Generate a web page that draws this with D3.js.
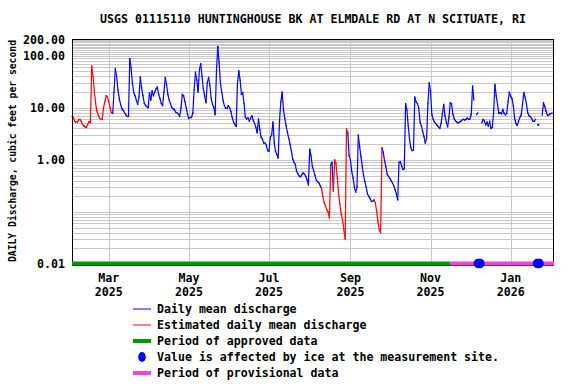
<!DOCTYPE html>
<html>
<head>
<meta charset="utf-8">
<script src="https://cdn.jsdelivr.net/npm/d3@7"></script>
<style>
  body { margin: 0; background: #fff; }
  text { font-family: "DejaVu Sans Mono", monospace; font-weight: bold; font-size: 11.6px; fill: #000; }
</style>
</head>
<body>
<div id="chart"></div>
<script>
var title = "USGS 01115110 HUNTINGHOUSE BK AT ELMDALE RD AT N SCITUATE, RI";
var yLabel = "DAILY Discharge, cubic feet per second";
var firstDay = "2025-02-01";
var lastDay = "2026-02-03";

// daily mean discharge, cfs (null = no value)
var feb25 = [6.8, 6.6, 5.5, 5.3, 5.3, 5.8, 6.0, 5.5, 4.8, 4.5, 4.3, 4.2, 4.8, 5.4, 5.2, 63, 40, 21, 12, 8.5, 7.2, 6.3, 6.0, 6.0, 10, 13, 17, 16];
var mar25 = [13, 10, 8, 7.8, 20, 56, 40, 22, 15, 11.5, 9.6, 9, 8, 7.3, 6.8, 6.8, 88, 58, 30, 19.5, 17, 14, 11.6, 16, 39, 24, 17, 12.3, 11.2, 10.5, 10];
var apr25 = [19.5, 14, 21, 17, 20, 23, 25, 18, 15, 12, 11, 20, 38, 28, 18, 14, 12, 10, 9.5, 9.2, 8.2, 8, 7.5, 6.8, 10, 18, 17, 13, 10, 7.4];
var may25 = [6.2, 6.5, 6.5, 8, 22, 48, 34, 20, 53, 70, 40, 23, 17, 12.5, 30, 38, 27, 15, 11.5, 10, 7.4, 50, 150, 73, 30, 20, 14, 11, 9.8, 9.7, 11];
var jun25 = [10, 8.4, 6.5, 5.3, 4.8, 4.4, 29, 51, 34, 18, 19.5, 12, 6.5, 6.1, 6.4, 5.5, 6.3, 7, 5.8, 5, 4.2, 3.3, 6.1, 3.8, 2.7, 2.5, 2.1, 2.1, 1.9, 1.5];
var jul25 = [1.47, 2.7, 3.0, 5.3, 2.1, 1.45, 1.27, 1.09, 5.6, 13, 20, 9.3, 6.3, 4.5, 3.4, 2.6, 2.0, 1.5, 1.05, 0.9, 0.82, 0.6, 0.54, 0.49, 0.47, 0.52, 0.56, 0.53, 0.48, 0.41, 0.33];
var aug25 = [1.6, 1.2, 0.75, 0.62, 0.5, 0.41, 0.38, 0.36, 0.32, 0.28, 0.2, 0.15, 0.13, 0.11, 0.1, 0.077, 0.8, 0.9, 0.25, 1.0, 0.85, 0.45, 0.22, 0.14, 0.09, 0.07, 0.045, 0.03, 3.9, 3.3, 1.2];
var sep25 = [1.0, 0.6, 0.45, 0.3, 0.24, 0.3, 3.0, 1.8, 1.16, 0.75, 0.5, 0.38, 0.3, 0.22, 0.2, 0.18, 0.16, 0.16, 0.17, 0.15, 0.1, 0.065, 0.045, 0.04, 1.7, 1.4, 0.95, 0.74, 0.52, 0.48];
var oct25 = [0.44, 0.4, 0.36, 0.32, 0.27, 0.22, 0.17, 0.9, 0.92, 0.75, 0.65, 0.68, 12, 9, 4.5, 2.5, 1.7, 1.5, 1.55, 16, 13, 12, 10, 5.3, 4.5, 3.5, 2.8, 2.1, 2.6, 12, 30];
var nov25 = [20, 7.4, 6, 5.3, 5.0, 4.6, 4.3, 4.0, 5, 7.5, 11.6, 7, 5.3, 4.3, 6.5, 12.4, 12, 7.5, 6.2, 5.6, 5.3, 5.1, 5.3, 5.5, 5.8, 6, 5.8, 6, 6.3, 6];
var dec25 = [6.1, 7.4, 26, 14, null, 7.4, 8, null, null, 5.1, 6, 5.6, 4.7, 5.3, 4.4, 5.5, 4.0, 4.2, 8, 28, 17, 11.6, 7.8, 8, 7.6, 9.3, 7.8, 7.3, 7.8, 13, 20];
var jan26 = [16.5, 15, 11, 6.3, 5, 4.6, 5.5, 6.5, 7.2, 11.5, 19.5, 16, 12, 8, 7, 6.8, 6.2, 5.5, 5.5, 6, null, 4.7, null, null, 7.2, 12.4, 10.5, 8.5, 7.2, 7.2, 7.6];
var feb26 = [7.8, 7.9];

// periods of estimated values (drawn red)
var estimated = [["2025-02-01", "2025-03-04"], ["2025-08-10", "2025-08-17"], ["2025-08-19", "2025-08-30"], ["2025-09-19", "2025-09-25"]];
var iceDays = ["2025-12-07", "2025-12-08", "2025-12-09", "2026-01-21", "2026-01-22", "2026-01-23"];
var provisionalStart = "2025-11-16";

var yTicks = [0.01, 1, 10, 100, 200];
var xTicks = ["2025-03-01", "2025-05-01", "2025-07-01", "2025-09-01", "2025-11-01", "2026-01-01"];

var legendItems = [
  {label: "Daily mean discharge", kind: "line", color: "#0000ff"},
  {label: "Estimated daily mean discharge", kind: "line", color: "#ff0000"},
  {label: "Period of approved data", kind: "bar", color: "#009900"},
  {label: "Value is affected by ice at the measurement site.", kind: "dot", color: "#0000ff"},
  {label: "Period of provisional data", kind: "bar", color: "#ee44dd"}
];

var parse = d3.utcParse("%Y-%m-%d");
var flow = feb25.concat(mar25, apr25, may25, jun25, jul25, aug25, sep25, oct25, nov25, dec25, jan26, feb26);
var t0 = parse(firstDay);
var data = flow.map(function (v, i) {
  var date = d3.utcDay.offset(t0, i);
  var est = estimated.some(function (r) { return date >= parse(r[0]) && date <= parse(r[1]); });
  return {date: date, value: v, est: est};
});

var W = 576, H = 384;
var margin = {top: 40, right: 22, bottom: 120, left: 72};
var width = W - margin.left - margin.right;
var height = H - margin.top - margin.bottom;

var svg = d3.select("#chart").append("svg")
  .attr("width", W).attr("height", H);

var x = d3.scaleUtc().domain([parse(firstDay), parse(lastDay)]).range([margin.left, margin.left + width]);
var y = d3.scaleLog().domain([0.01, 200]).range([margin.top + height, margin.top]);

// title
svg.append("text")
  .attr("x", 313).attr("y", 23)
  .attr("text-anchor", "middle")
  .text(title);

// grid lines: 1..9 per decade, tens between 100 and 200
var gridVals = [];
[0.01, 0.1, 1, 10].forEach(function (dec) {
  for (var k = 1; k <= 9; k++) gridVals.push(dec * k);
});
for (var g = 100; g <= 200; g += 10) gridVals.push(g);

var grid = svg.append("g").attr("shape-rendering", "crispEdges");
grid.selectAll("line.h").data(gridVals).join("line")
  .attr("class", "h")
  .attr("x1", margin.left).attr("x2", margin.left + width)
  .attr("y1", function (d) { return Math.round(y(d)) + 0.5; })
  .attr("y2", function (d) { return Math.round(y(d)) + 0.5; })
  .attr("stroke", "#c8c8c8");
grid.selectAll("line.v").data(xTicks).join("line")
  .attr("class", "v")
  .attr("x1", function (d) { return Math.round(x(parse(d))) + 0.5; })
  .attr("x2", function (d) { return Math.round(x(parse(d))) + 0.5; })
  .attr("y1", margin.top).attr("y2", margin.top + height)
  .attr("stroke", "#c8c8c8");

// data segments
var segs = [];
for (var i = 0; i < data.length - 1; i++) {
  var a = data[i], b = data[i + 1];
  if (a.value == null || b.value == null) continue;
  segs.push({a: a, b: b, est: a.est && b.est});
}
svg.append("g").selectAll("line").data(segs).join("line")
  .attr("x1", function (d) { return x(d.a.date); })
  .attr("y1", function (d) { return y(d.a.value); })
  .attr("x2", function (d) { return x(d.b.date); })
  .attr("y2", function (d) { return y(d.b.value); })
  .attr("stroke", function (d) { return d.est ? "#ff0000" : "#0000ff"; })
  .attr("stroke-width", 1.2)
  .attr("stroke-linecap", "square");

// single points with no neighbours
var lone = data.filter(function (d, i) {
  var prev = data[i - 1], next = data[i + 1];
  return d.value != null && (!prev || prev.value == null) && (!next || next.value == null);
});
svg.append("g").selectAll("rect").data(lone).join("rect")
  .attr("x", function (d) { return x(d.date) - 1; })
  .attr("y", function (d) { return y(d.value) - 1; })
  .attr("width", 2).attr("height", 2)
  .attr("fill", "#0000ff");

// frame
svg.append("rect")
  .attr("x", margin.left + 0.5).attr("y", margin.top - 0.5)
  .attr("width", width - 1).attr("height", height + 1.5)
  .attr("fill", "none").attr("stroke", "#000")
  .attr("shape-rendering", "crispEdges");

// approval status bar along the bottom
var yBar = margin.top + height - 0.5;
svg.append("line")
  .attr("x1", margin.left).attr("x2", x(parse(provisionalStart)))
  .attr("y1", yBar).attr("y2", yBar)
  .attr("stroke", "#009900").attr("stroke-width", 4);
svg.append("line")
  .attr("x1", x(parse(provisionalStart))).attr("x2", margin.left + width)
  .attr("y1", yBar).attr("y2", yBar)
  .attr("stroke", "#ee44dd").attr("stroke-width", 4);

// ice markers
svg.append("g").selectAll("ellipse").data(iceDays).join("ellipse")
  .attr("cx", function (d) { return x(parse(d)); })
  .attr("cy", yBar)
  .attr("rx", 4.2).attr("ry", 4.7)
  .attr("fill", "#0000ff");

// y axis labels
svg.append("g").selectAll("text").data(yTicks).join("text")
  .attr("x", 65)
  .attr("y", function (d) { return y(d) + 4; })
  .attr("text-anchor", "end")
  .text(function (d) { return d3.format(".2f")(d); });

svg.append("text")
  .attr("transform", "translate(16," + (margin.top + height / 2 - 1) + ") rotate(-90)")
  .attr("text-anchor", "middle")
  .style("font-size", "11px")
  .attr("textLength", 222)
  .attr("lengthAdjust", "spacingAndGlyphs")
  .text(yLabel);

// x axis labels
var monthFmt = d3.utcFormat("%b"), yearFmt = d3.utcFormat("%Y");
var xl = svg.append("g").selectAll("g").data(xTicks).join("g")
  .attr("transform", function (d) { return "translate(" + x(parse(d)) + ",0)"; });
xl.append("text").attr("y", 282).attr("text-anchor", "middle")
  .text(function (d) { return monthFmt(parse(d)); });
xl.append("text").attr("y", 296).attr("text-anchor", "middle")
  .text(function (d) { return yearFmt(parse(d)); });

// legend
var lg = svg.append("g").selectAll("g").data(legendItems).join("g")
  .attr("transform", function (d, i) { return "translate(133," + (309 + i * 16) + ")"; });
lg.each(function (d) {
  var g = d3.select(this);
  if (d.kind == "line") {
    g.append("line").attr("x1", 0).attr("x2", 18).attr("stroke", d.color).attr("stroke-width", 1);
  } else if (d.kind == "bar") {
    g.append("line").attr("x1", 0).attr("x2", 18).attr("stroke", d.color).attr("stroke-width", 4);
  } else {
    g.append("ellipse").attr("cx", 9).attr("cy", 0).attr("rx", 3.8).attr("ry", 5).attr("fill", d.color);
  }
});
lg.append("text").attr("x", 24).attr("y", 4).text(function (d) { return d.label; });
</script>
</body>
</html>
